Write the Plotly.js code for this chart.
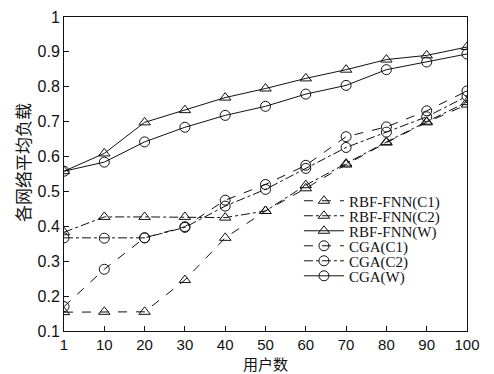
<!DOCTYPE html>
<html>
<head>
<meta charset="utf-8">
<script src="https://cdn.plot.ly/plotly-3.0.1.min.js"></script>
<style>html,body{margin:0;padding:0;background:#fff;}#chart{width:494px;height:374px;}</style>
</head>
<body>
<div id="chart"></div>
<script>
var users = ['1','10','20','30','40','50','60','70','80','90','100'];
var rbfC1 = [0.154,0.155,0.155,0.246,0.367,0.444,0.509,0.577,0.640,0.698,0.749];
var rbfC2 = [0.383,0.427,0.427,0.427,0.425,0.444,0.518,0.580,0.642,0.700,0.756];
var rbfW  = [0.558,0.609,0.698,0.733,0.769,0.795,0.824,0.849,0.878,0.890,0.914];
var cgaC1 = [0.170,0.277,0.367,0.399,0.475,0.520,0.575,0.657,0.685,0.731,0.788];
var cgaC2 = [0.367,0.366,0.367,0.397,0.458,0.506,0.566,0.626,0.670,0.714,0.773];
var cgaW  = [0.558,0.584,0.642,0.684,0.718,0.744,0.779,0.804,0.849,0.871,0.894];
var names = ['RBF-FNN(C1)','RBF-FNN(C2)','RBF-FNN(W)','CGA(C1)','CGA(C2)','CGA(W)'];
var yTicks = [0.1,0.2,0.3,0.4,0.5,0.6,0.7,0.8,0.9,1];
var xTitle = '用户数';
var yTitle = '各网络平均负载';

var series = [rbfC1, rbfC2, rbfW, cgaC1, cgaC2, cgaW];
var dashes = ['dash','dashdot','solid','dash','dashdot','solid'];
var symbols = ['triangle-up-open','triangle-up-open','triangle-up-open','circle-open','circle-open','circle-open'];
var legendIds = ['legend','legend2','legend3','legend4','legend5','legend6'];

var traces = series.map(function(s, i) {
  return {
    x: users, y: s, name: names[i], type: 'scatter', mode: 'lines+markers',
    legend: legendIds[i],
    line: {color: '#111', width: 1, dash: dashes[i]},
    marker: {symbol: symbols[i], size: 10, color: '#111', line: {width: 1, color: '#111'}}
  };
});

var layout = {
  width: 494, height: 374,
  margin: {l: 64, r: 27, t: 17, b: 43},
  paper_bgcolor: '#fff', plot_bgcolor: '#fff',
  showlegend: true,
  xaxis: {
    type: 'category', range: [0, 10],
    tickvals: users, ticktext: users,
    ticks: 'inside', ticklen: 5, tickcolor: '#111',
    showline: true, linecolor: '#111', linewidth: 1, mirror: true,
    showgrid: false, zeroline: false,
    tickfont: {family: 'Liberation Sans, Arial, sans-serif', size: 15, color: '#111'}
  },
  yaxis: {
    range: [0.1, 1], tickvals: yTicks,
    ticks: 'inside', ticklen: 5, tickcolor: '#111',
    showline: true, linecolor: '#111', linewidth: 1, mirror: true,
    showgrid: false, zeroline: false,
    tickfont: {family: 'Liberation Sans, Arial, sans-serif', size: 16, color: '#111'}
  },
  annotations: [
    {text: xTitle, xref: 'paper', yref: 'paper', x: 0.5, y: -0.102,
     xanchor: 'center', yanchor: 'middle', showarrow: false,
     font: {family: 'Noto Sans CJK SC', size: 15, color: '#111'}},
    {text: yTitle, xref: 'paper', yref: 'paper', x: -0.104, y: 0.535, textangle: -90,
     xanchor: 'center', yanchor: 'middle', showarrow: false,
     font: {family: 'Noto Sans CJK SC', size: 17, color: '#111'}}
  ]
};

legendIds.forEach(function(id, i) {
  layout[id] = {
    x: 0.583, y: 0.414 - i * 0.0478, xanchor: 'left', yanchor: 'middle',
    bgcolor: 'rgba(255,255,255,0)', borderwidth: 0, itemwidth: 40,
    font: {family: 'Liberation Serif, serif', size: 15, color: '#111'}
  };
});

Plotly.newPlot('chart', traces, layout, {displayModeBar: false, staticPlot: true});
</script>
</body>
</html>
